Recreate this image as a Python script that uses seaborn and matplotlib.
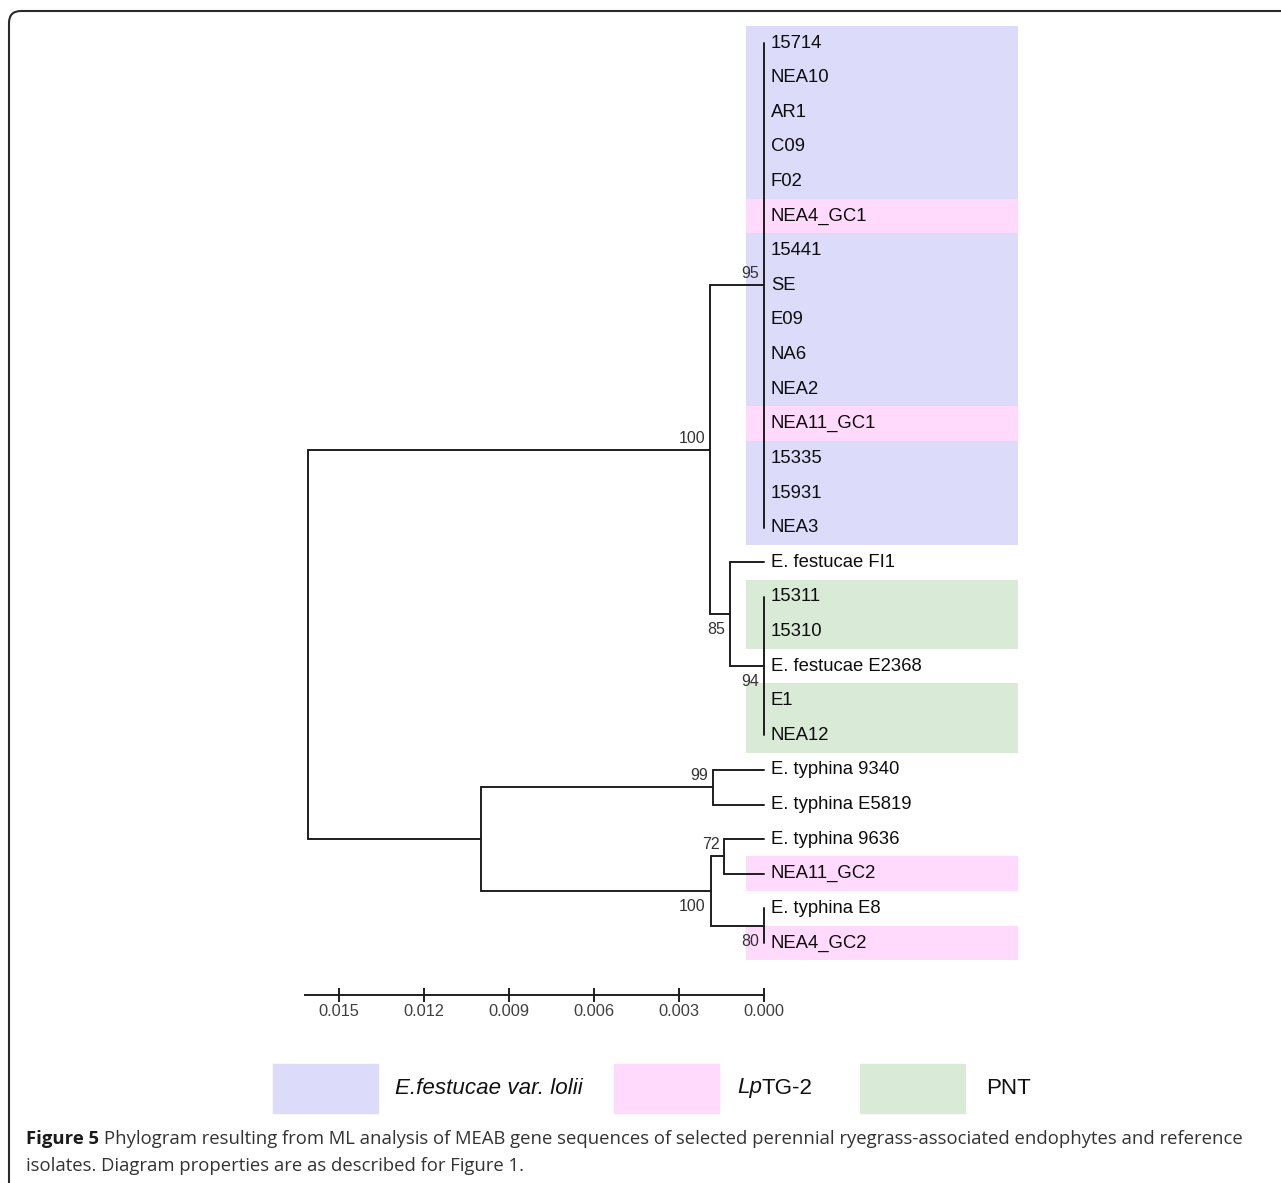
import numpy as np
import pandas as pd
import matplotlib
matplotlib.use("Agg")
import matplotlib.pyplot as plt
from matplotlib.patches import FancyBboxPatch, Rectangle
import seaborn as sns

# tips, top to bottom
tip_labels = ["15714", "NEA10", "AR1", "C09", "F02", "NEA4_GC1", "15441", "SE",
              "E09", "NA6", "NEA2", "NEA11_GC1", "15335", "15931", "NEA3",
              "E. festucae FI1", "15311", "15310", "E. festucae E2368", "E1", "NEA12",
              "E. typhina 9340", "E. typhina E5819", "E. typhina 9636", "NEA11_GC2",
              "E. typhina E8", "NEA4_GC2"]
tip_groups = ["lolii", "lolii", "lolii", "lolii", "lolii", "lptg2", "lolii", "lolii",
              "lolii", "lolii", "lolii", "lptg2", "lolii", "lolii", "lolii",
              None, "pnt", "pnt", None, "pnt", "pnt",
              None, None, None, "lptg2", None, "lptg2"]

# internal nodes (children listed by name), heights in substitutions/site
node_names = ["lolii", "n94", "n85", "n100a", "n99", "n72", "n80", "n100b", "ntyph", "root"]
node_children = [
    ["15714", "NEA10", "AR1", "C09", "F02", "NEA4_GC1", "15441", "SE", "E09", "NA6",
     "NEA2", "NEA11_GC1", "15335", "15931", "NEA3"],
    ["15311", "15310", "E. festucae E2368", "E1", "NEA12"],
    ["E. festucae FI1", "n94"],
    ["lolii", "n85"],
    ["E. typhina 9340", "E. typhina E5819"],
    ["E. typhina 9636", "NEA11_GC2"],
    ["E. typhina E8", "NEA4_GC2"],
    ["n72", "n80"],
    ["n99", "n100b"],
    ["n100a", "ntyph"],
]
node_heights = [0.0, 0.0, 0.0012, 0.0019, 0.0018, 0.0014, 0.0, 0.00188, 0.0100, 0.0161]
node_support = ["95", "94", "85", "100", "99", "72", "80", "100", "", ""]
support_side = ["above", "below", "below", "above", "above", "above", "below", "below", None, None]

scale_ticks = [0.015, 0.012, 0.009, 0.006, 0.003, 0.000]

group_colors = {"lolii": "#dcdcfa", "lptg2": "#ffdafc", "pnt": "#d9ead7"}
legend_groups = ["lolii", "lptg2", "pnt"]

# ---- layout of the tree ----
pos = {}
for i, t in enumerate(tip_labels):
    pos[t] = (0.0, float(i))
for name, kids, h in zip(node_names, node_children, node_heights):
    ys = [pos[k][1] for k in kids]
    pos[name] = (h, (min(ys) + max(ys)) / 2)

rows = []
seg = 0
for name, kids, h in zip(node_names, node_children, node_heights):
    ys = [pos[k][1] for k in kids]
    rows += [(seg, h, min(ys)), (seg, h, max(ys))]
    seg += 1
    for k in kids:
        kh, ky = pos[k]
        rows += [(seg, h, ky), (seg, kh, ky)]
        seg += 1
branches = pd.DataFrame(rows, columns=["seg", "h", "y"])

sns.set_theme(style="white")
plt.rcParams["font.family"] = ["Liberation Sans", "DejaVu Sans"]

W, H = 1281, 1183
fig = plt.figure(figsize=(W / 100, H / 100), dpi=100)

# axes in pixel placement: 300..1025 x, 20..995 y
ax = fig.add_axes([300 / W, (H - 995) / H, 725 / W, 975 / H])
ax.patch.set_alpha(0)

px_per_unit = 425 / 0.015
ax.set_xlim((764 - 300) / px_per_unit, (764 - 1025) / px_per_unit)
row_px = (943 - 43) / 26
ax.set_ylim((995 - 43) / row_px, (20 - 43) / row_px)

# coloured bands
band_left = (764 - 746) / px_per_unit
band_right = (764 - 1018) / px_per_unit
for i, g in enumerate(tip_groups):
    if g is None:
        continue
    ax.barh(i, band_left - band_right, left=band_right, height=1.0,
            color=group_colors[g], edgecolor="none", zorder=0)

sns.lineplot(data=branches, x="h", y="y", units="seg", estimator=None, sort=False,
             color="#1e1e1e", lw=1.4, ax=ax, legend=False, zorder=3)

for i, t in enumerate(tip_labels):
    ax.annotate(t, (0.0, i), xytext=(5, 0), textcoords="offset points",
                ha="left", va="center", fontsize=13.3, color="#0d0d0d", zorder=4)

for name, sup, side in zip(node_names, node_support, support_side):
    if not sup:
        continue
    h, y = pos[name]
    if side == "above":
        ax.annotate(sup, (h, y), xytext=(-3.5, 3), textcoords="offset points",
                    ha="right", va="bottom", fontsize=11.5, color="#333333")
    else:
        ax.annotate(sup, (h, y), xytext=(-3.5, -6), textcoords="offset points",
                    ha="right", va="top", fontsize=11.5, color="#333333")

# scale axis
for s in ["top", "left", "right"]:
    ax.spines[s].set_visible(False)
ax.spines["bottom"].set_bounds(0.0, (764 - 305) / px_per_unit)
ax.spines["bottom"].set_color("#1e1e1e")
ax.spines["bottom"].set_linewidth(1.4)
ax.set_xticks(scale_ticks)
ax.set_xticklabels([f"{v:.3f}" for v in scale_ticks])
ax.tick_params(axis="x", direction="inout", length=10, width=1.4, color="#1e1e1e",
               labelsize=11.8, labelcolor="#404040", pad=1.5, bottom=True)
ax.set_yticks([])
ax.set_xlabel("")
ax.set_ylabel("")

# legend
legend_x = [273, 614, 860]
for g, x0 in zip(legend_groups, legend_x):
    fig.patches.append(Rectangle((x0 / W, (H - 1113) / H), 105 / W, 49 / H,
                                 transform=fig.transFigure, color=group_colors[g],
                                 zorder=1))
fig.text(395 / W, 1 - 1088 / H, "E.festucae var. lolii", fontsize=16.1, style="italic",
         ha="left", va="center", color="#111111")
lp = fig.text(737 / W, 1 - 1088 / H, "Lp", fontsize=16.1, style="italic",
              ha="left", va="center", color="#111111")
fig.canvas.draw()
r = fig.canvas.get_renderer()
bb = lp.get_window_extent(r)
fig.text(bb.x1 / W, 1 - 1088 / H, "TG-2", fontsize=16.1, ha="left", va="center",
         color="#111111")
fig.text(986 / W, 1 - 1088 / H, "PNT", fontsize=16.1, ha="left", va="center",
         color="#111111")

# caption
cap_font = ["Open Sans", "DejaVu Sans"]
fb = fig.text(26 / W, 1 - 1139 / H, "Figure 5", fontsize=13.3, fontweight="bold",
              family=cap_font, ha="left", va="center", color="#1a1a1a")
fig.canvas.draw()
bb = fb.get_window_extent(fig.canvas.get_renderer())
fig.text((bb.x1 + 5) / W, 1 - 1139 / H,
         "Phylogram resulting from ML analysis of MEAB gene sequences of selected "
         "perennial ryegrass-associated endophytes and reference",
         fontsize=13.3, family=cap_font, ha="left", va="center", color="#333333")
fig.text(26 / W, 1 - 1166 / H,
         "isolates. Diagram properties are as described for Figure 1.",
         fontsize=13.3, family=cap_font, ha="left", va="center", color="#333333")

# rounded frame
fig.patches.append(FancyBboxPatch((9, -100), 1400, 1172 + 100,
                                  boxstyle="round,pad=0,rounding_size=12",
                                  transform=None, fill=False, lw=1.5,
                                  edgecolor="#2a2a2a"))

fig.savefig("out.png", dpi=100)
